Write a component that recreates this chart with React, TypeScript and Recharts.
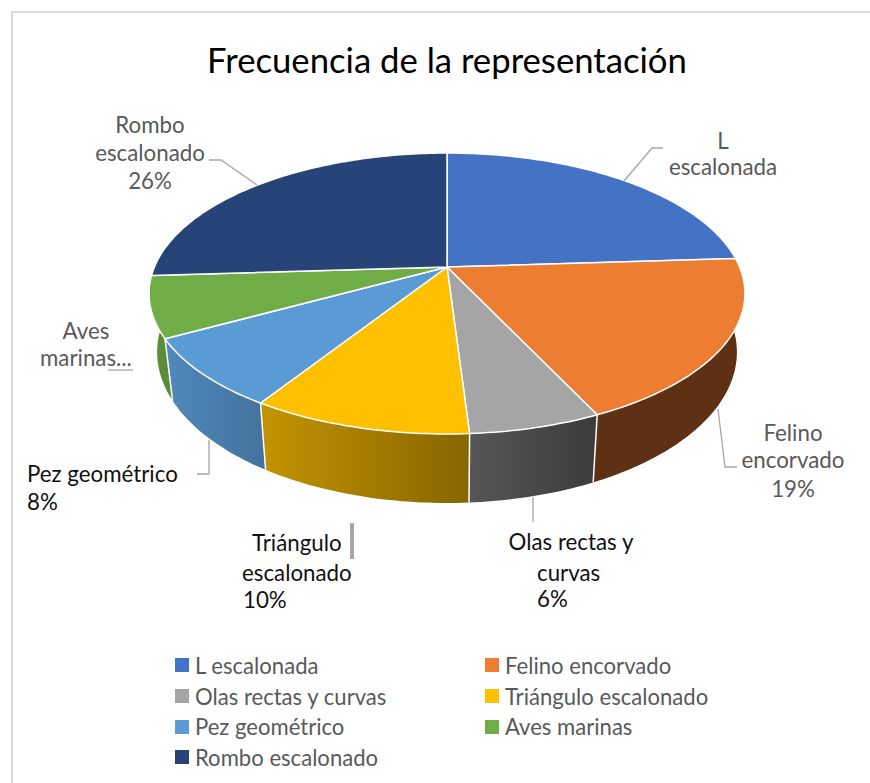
import { Legend, Pie, PieChart } from 'recharts'

const categories = [
  'L escalonada',
  'Felino encorvado',
  'Olas rectas y curvas',
  'Triángulo escalonado',
  'Pez geométrico',
  'Aves marinas',
  'Rombo escalonado',
]
const values = [24, 19, 6, 10, 8, 7, 26]
const topColors = ['#4472c4', '#ed7d31', '#a5a5a5', '#ffc000', '#5b9bd5', '#70ad47', '#264478']
const wallFills = [
  '#2a4578',
  '#5e3114',
  'url(#wallOlas)',
  'url(#wallTriangulo)',
  'url(#wallPez)',
  '#5a8d39',
  '#172a4a',
]

const data = categories.map((name, i) => ({ name, value: values[i], fill: topColors[i], wall: wallFills[i] }))

const CX = 447
const CY = 267
const RADIUS = 292.6
const TILT = 0.463
const PERSPECTIVE = -0.1886

// flat pie angle -> point on the tilted top face
function project(deg: number, cx: number, cy: number, r: number) {
  const t = (deg * Math.PI) / 180
  const u = Math.cos(t)
  const v = -Math.sin(t)
  const w = 1 + PERSPECTIVE * v
  return { x: cx + (r * u) / w, y: cy + (r * TILT * v) / w }
}

// same point on the lower rim
function lower(p: { x: number; y: number }, cx: number, cy: number) {
  return { x: cx + 0.973 * (p.x - cx), y: p.y + 56.6 + 0.0745 * (p.y - cy) }
}

function arcPoints(start: number, end: number, cx: number, cy: number, r: number) {
  const n = Math.max(2, Math.ceil(Math.abs(end - start)))
  const pts = []
  for (let i = 0; i <= n; i++) pts.push(project(start + ((end - start) * i) / n, cx, cy, r))
  return pts
}

const toPath = (pts: { x: number; y: number }[]) =>
  pts.map((p, i) => `${i ? 'L' : 'M'}${p.x.toFixed(1)},${p.y.toFixed(1)}`).join(' ')

function TopFace(props: any) {
  const { cx, cy, outerRadius, startAngle, endAngle, fill } = props
  const d = `M${cx},${cy} ${toPath(arcPoints(startAngle, endAngle, cx, cy, outerRadius)).replace('M', 'L')} Z`
  return <path d={d} fill={fill} stroke="#fff" strokeWidth={1.5} strokeLinejoin="round" />
}

function Wall(props: any) {
  const { cx, cy, outerRadius, startAngle, endAngle, wall } = props
  // only the part of the rim that faces the viewer
  const a = Math.min(startAngle, 0)
  const b = Math.max(endAngle, -176.5)
  if (a <= b) return null
  const top = arcPoints(a, b, cx, cy, outerRadius)
  // one quad per step so the side edges keep their tangent outline
  let quads = ''
  for (let i = 0; i < top.length - 1; i++) {
    const p = top[i]
    const q = top[i + 1]
    quads += `${toPath([p, q, lower(q, cx, cy), lower(p, cx, cy)])} Z `
  }
  const seam = startAngle <= 0 ? toPath([top[0], lower(top[0], cx, cy)]) : ''
  return (
    <g>
      <path d={quads} fill={wall} />
      {seam && <path d={seam} fill="none" stroke="#fff" strokeWidth={1.5} />}
    </g>
  )
}

const GREY = '#595959'
const DARK = '#111111'

const sliceLabels = [
  { fill: GREY, lines: [['L', 723, 149, 'middle'], ['escalonada', 723, 175, 'middle']], leader: 'M624,181 L652,148 L663,148' },
  { fill: GREY, lines: [['Felino', 793, 441, 'middle'], ['encorvado', 793, 468, 'middle'], ['19%', 793, 497, 'middle']], leader: 'M718,409 L725,467 L737,467' },
  { fill: DARK, lines: [['Olas rectas y', 571, 550, 'middle'], ['curvas', 537, 581, 'start'], ['6%', 537, 607, 'start']], leader: 'M533,497 L533,522' },
  { fill: DARK, lines: [['Triángulo', 252, 551, 'start'], ['escalonado', 242, 581, 'start'], ['10%', 243, 608, 'start']], leader: 'M352,523 L352,559', leaderWidth: 4 },
  { fill: DARK, lines: [['Pez geométrico', 27, 482, 'start'], ['8%', 27, 510, 'start']], leader: 'M197,474 L209,474 L209,440' },
  { fill: GREY, lines: [['Aves', 86, 339, 'middle'], ['marinas...', 40, 366, 'start']], leader: 'M108,370 L133,370' },
  { fill: GREY, lines: [['Rombo', 150, 133, 'middle'], ['escalonado', 150, 161, 'middle'], ['26%', 150, 189, 'middle']], leader: 'M209,160 L221,160 L257,185' },
]

function SliceLabel({ index }: any) {
  const l = sliceLabels[index]
  return (
    <g>
      <path d={l.leader} fill="none" stroke="#a6a6a6" strokeWidth={l.leaderWidth ?? 1.3} />
      {l.lines.map(([t, x, y, anchor]: any) => (
        <text key={t} x={x} y={y} textAnchor={anchor} fill={l.fill} fontSize={22.3} fontFamily="Lato">
          {t}
        </text>
      ))}
    </g>
  )
}

function LegendBlock({ payload }: any) {
  const items = (payload ?? []).filter((e: any) => e.type !== 'none')
  return (
    <div style={{ display: 'grid', gridTemplateColumns: '310px 310px', gridAutoRows: '30.7px', fontFamily: 'Lato', fontSize: 22.1, color: GREY }}>
      {items.map((e: any) => (
        <div key={e.value} style={{ display: 'flex', alignItems: 'center', whiteSpace: 'nowrap' }}>
          <span style={{ width: 14, height: 14, background: e.color, marginRight: 6 }} />
          {e.value}
        </div>
      ))}
    </div>
  )
}

export default function App() {
  return (
    <div style={{ position: 'absolute', left: 0, top: 0, width: 870, height: 783, background: '#fff', overflow: 'hidden' }}>
      <div style={{ position: 'absolute', left: 11, top: 11, width: 900, height: 800, border: '2px solid #d9d9d9', boxSizing: 'border-box' }} />
      <div style={{ position: 'absolute', left: 0, width: 894, top: 38, textAlign: 'center', fontFamily: 'Lato', fontSize: 34.7, lineHeight: '44px', color: '#000' }}>
        Frecuencia de la representación
      </div>
      <div style={{ position: 'absolute', left: 0, top: 0 }}>
        <PieChart width={870} height={783} margin={{ top: 0, right: 0, bottom: 0, left: 0 }}>
          <defs>
            <linearGradient id="wallOlas" x1="0" y1="0" x2="1" y2="0">
              <stop offset="0" stopColor="#565656" />
              <stop offset="1" stopColor="#3b3b3b" />
            </linearGradient>
            <linearGradient id="wallTriangulo" x1="0" y1="0" x2="1" y2="0">
              <stop offset="0" stopColor="#c49300" />
              <stop offset="1" stopColor="#866600" />
            </linearGradient>
            <linearGradient id="wallPez" x1="0" y1="0" x2="1" y2="0">
              <stop offset="0" stopColor="#5089bd" />
              <stop offset="1" stopColor="#44729c" />
            </linearGradient>
          </defs>
          <Pie
            data={data}
            dataKey="value"
            nameKey="name"
            cx={CX}
            cy={CY}
            outerRadius={RADIUS}
            startAngle={90}
            endAngle={-270}
            paddingAngle={0}
            legendType="none"
            isAnimationActive={false}
            shape={Wall}
            inactiveShape={Wall}
          />
          <Pie
            data={data}
            dataKey="value"
            nameKey="name"
            cx={CX}
            cy={CY}
            outerRadius={RADIUS}
            startAngle={90}
            endAngle={-270}
            paddingAngle={0}
            isAnimationActive={false}
            shape={TopFace}
            inactiveShape={TopFace}
            label={SliceLabel}
            labelLine={false}
          />
          <Legend
            content={<LegendBlock />}
            itemSorter={null}
            wrapperStyle={{ position: 'absolute', left: 175, top: 650, width: 640, bottom: 'auto' }}
          />
        </PieChart>
      </div>
    </div>
  )
}
